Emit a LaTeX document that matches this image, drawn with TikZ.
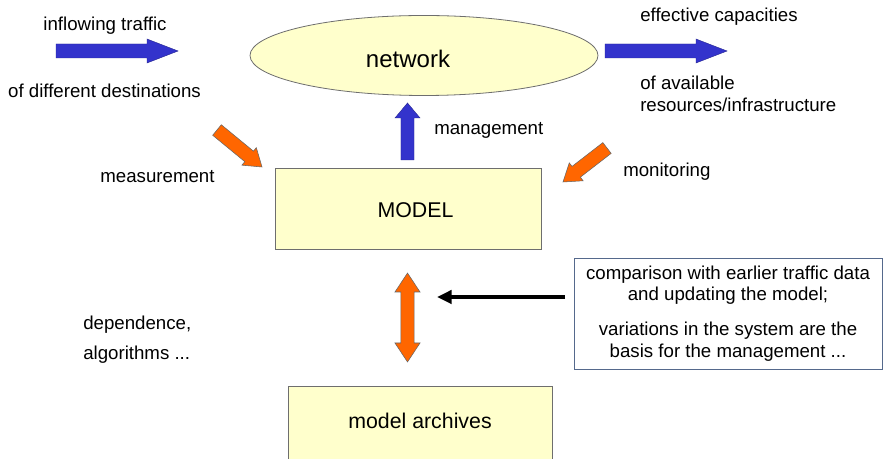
\documentclass[tikz,border=0pt]{standalone}
\usepackage{fontspec}
\setmainfont{Liberation Sans}
\usetikzlibrary{calc,arrows.meta,shapes.geometric}
\definecolor{boxfill}{RGB}{255,255,204}
\definecolor{boxline}{RGB}{110,110,110}
\definecolor{arrblue}{RGB}{51,51,204}
\definecolor{arrorange}{RGB}{255,102,0}
\definecolor{cmpline}{RGB}{85,105,140}
% #1 style, #2 tail, #3 tip, #4 shaft half width, #5 head half width, #6 head length
\newcommand\blockarr[6]{%
  \path ($(#3)!#6!(#2)$) coordinate (bh);
  \path[#1] ($(#2)!#4!90:(#3)$) -- ($(bh)!#4!90:(#3)$) -- ($(bh)!#5!90:(#3)$) -- (#3)
    -- ($(bh)!#5!-90:(#3)$) -- ($(bh)!#4!-90:(#3)$) -- ($(#2)!#4!-90:(#3)$) -- cycle;}
\newcommand\dblarr[6]{%
  \path ($(#2)!#6!(#3)$) coordinate (ha) ($(#3)!#6!(#2)$) coordinate (hb);
  \path[#1] (#2) -- ($(ha)!#5!90:(#3)$) -- ($(ha)!#4!90:(#3)$) -- ($(hb)!#4!90:(#3)$)
    -- ($(hb)!#5!90:(#3)$) -- (#3) -- ($(hb)!#5!-90:(#3)$) -- ($(hb)!#4!-90:(#3)$)
    -- ($(ha)!#4!-90:(#3)$) -- ($(ha)!#5!-90:(#3)$) -- cycle;}
\begin{document}
\begin{tikzpicture}[x=0.75pt,y=-0.75pt,
  lbl/.style={font=\fontsize{14}{16}\selectfont, inner sep=0pt},
  big/.style={font=\fontsize{16}{18}\selectfont, inner sep=0pt},
  yellowbox/.style={draw=boxline, fill=boxfill, line width=0.6pt, inner sep=0pt},
  bluearr/.style={fill=arrblue, draw=arrblue!70!black, line width=0.3pt},
  orangearr/.style={fill=arrorange, draw=black!60, line width=0.4pt}]
\useasboundingbox (0,0) rectangle (883,459);
\fill[white] (0,0) rectangle (883,459);

% main shapes
\node[yellowbox, ellipse, minimum width=261pt, minimum height=60pt] (net) at (424,55.5) {};
\node[anchor=base, font=\fontsize{18}{20}\selectfont, inner sep=0pt] (nettxt) at (408,68) {network};
\node[yellowbox, minimum width=199.5pt, minimum height=60.75pt] (model) at (408,208.5) {};
\node[big, anchor=base] (modeltxt) at (415.5,218) {MODEL};
\node[yellowbox, minimum width=198pt, minimum height=63pt] (arch) at (420,428) {};
\node[big, anchor=base] (archtxt) at (420,429) {model archives};
\node[draw=cmpline, line width=0.6pt, fill=white, minimum width=231pt, minimum height=83.25pt,
  align=center, inner sep=0pt, font=\fontsize{14}{15.75}\selectfont] (cmp) at (728,313.5)
  {comparison with earlier traffic data\\and updating the model;\\[10.5pt]variations in the system are the\\[0.75pt]basis for the management ...};

% labels
\node[lbl, anchor=base] (l1) at (105,30.5) {inflowing traffic};
\node[lbl, anchor=base] (l2) at (104.5,98) {of different destinations};
\node[lbl, anchor=base west] (l3) at (640,22) {effective capacities};
\node[lbl, anchor=base west] (l4) at (640,90) {of available};
\node[lbl, anchor=base west] (l5) at (640,112) {resources/infrastructure};
\node[lbl, anchor=base west] (l6) at (434,135) {management};
\node[lbl, anchor=base] (l7) at (157.5,183) {measurement};
\node[lbl, anchor=base west] (l8) at (623,177) {monitoring};
\node[lbl, anchor=base west] (l9) at (83,330) {dependence,};
\node[lbl, anchor=base west] (l10) at (83,360) {algorithms ...};

% arrow end points
\coordinate (inA) at (56,51);   \coordinate (inB) at (178,51);
\coordinate (outA) at (605,51); \coordinate (outB) at (727,51);
\coordinate (mgA) at (407.5,160); \coordinate (mgB) at (407.5,103);
\coordinate (msA) at (217,130); \coordinate (msB) at (262,167);
\coordinate (moA) at (607,148); \coordinate (moB) at (563,182);
\coordinate (dA) at (407.5,273); \coordinate (dB) at (407.5,362);
\coordinate (bs) at (565,297);  \coordinate (be) at (437,297);

\blockarr{bluearr}{inA}{inB}{5.25pt}{9pt}{23.25pt}
\blockarr{bluearr}{outA}{outB}{5.25pt}{9pt}{23.25pt}
\blockarr{bluearr}{mgA}{mgB}{4.9pt}{9.4pt}{11.25pt}
\blockarr{orangearr}{msA}{msB}{5.1pt}{8.5pt}{12.5pt}
\blockarr{orangearr}{moA}{moB}{5.1pt}{8.5pt}{12.5pt}
\dblarr{orangearr}{dA}{dB}{4.9pt}{9.4pt}{14.25pt}
\draw[line width=2.6pt, -{Triangle[length=11pt,width=10pt]}] (bs) -- (be);
\end{tikzpicture}
\end{document}
